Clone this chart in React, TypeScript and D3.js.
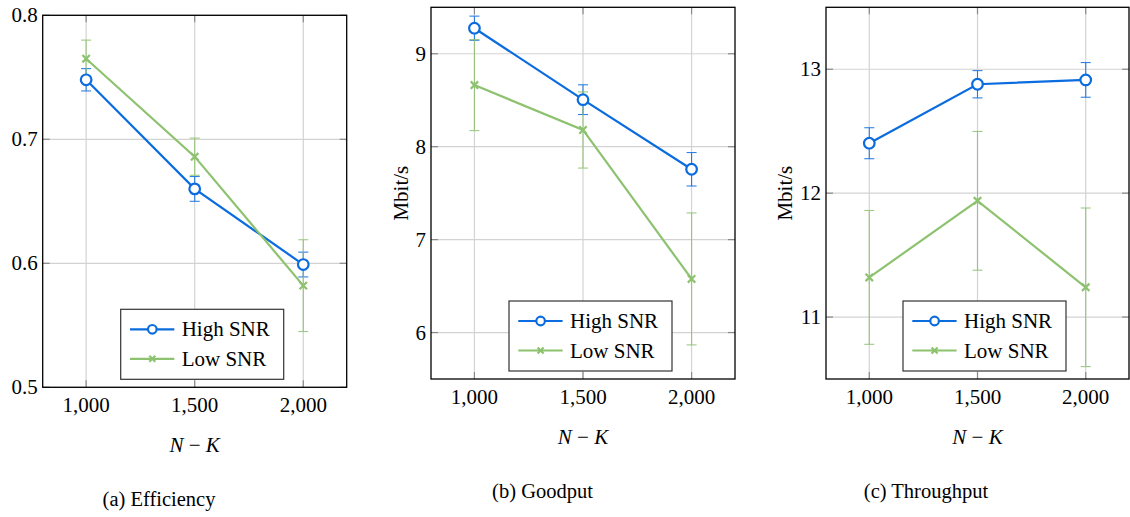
import React from "react";
import * as d3 from "d3";

const categories = [1000, 1500, 2000];
const xTicks = [1000, 1500, 2000];

const effHigh = [0.748, 0.66, 0.599];
const effHighErr = [0.009, 0.01, 0.01];
const effLow = [0.765, 0.686, 0.582];
const effLowErr = [0.015, 0.015, 0.037];
const effTicks = [0.5, 0.6, 0.7, 0.8];

const goodHigh = [9.275, 8.506, 7.757];
const goodHighErr = [0.13, 0.16, 0.18];
const goodLow = [8.663, 8.18, 6.577];
const goodLowErr = [0.49, 0.41, 0.71];
const goodTicks = [6, 7, 8, 9];

const thrHigh = [12.403, 12.879, 12.914];
const thrHighErr = [0.125, 0.11, 0.14];
const thrLow = [11.32, 11.938, 11.24];
const thrLowErr = [0.54, 0.56, 0.64];
const thrTicks = [11, 12, 13];

const seriesNames = ["High SNR", "Low SNR"];

const BLUE = "#0b6cdf";
const GREEN = "#8dc26f";
const FONT = "Liberation Serif, Tinos, Times New Roman, DejaVu Serif, serif";

type Panel = {
  left: number; top: number; right: number; bottom: number;
  yDomain: [number, number]; yTicks: number[]; yFmt: (v: number) => string;
  high: number[]; highErr: number[]; low: number[]; lowErr: number[];
  yLabel?: string; yLabelX?: number; caption: string; captionX: number;
};

const panels: Panel[] = [
  {
    left: 42.7, top: 15.3, right: 346.7, bottom: 387.3,
    yDomain: [0.5, 0.8], yTicks: effTicks, yFmt: (v) => d3.format(".1f")(v),
    high: effHigh, highErr: effHighErr, low: effLow, lowErr: effLowErr,
    caption: "(a) Efficiency", captionX: 159,
  },
  {
    left: 431, top: 7.3, right: 735, bottom: 379,
    yDomain: [5.5, 9.5], yTicks: goodTicks, yFmt: (v) => String(v),
    high: goodHigh, highErr: goodHighErr, low: goodLow, lowErr: goodLowErr,
    yLabel: "Mbit/s", yLabelX: 408, caption: "(b) Goodput", captionX: 542.5,
  },
  {
    left: 826, top: 7.3, right: 1129, bottom: 379,
    yDomain: [10.5, 13.5], yTicks: thrTicks, yFmt: (v) => String(v),
    high: thrHigh, highErr: thrHighErr, low: thrLow, lowErr: thrLowErr,
    yLabel: "Mbit/s", yLabelX: 792, caption: "(c) Throughput", captionX: 926,
  },
];

const textStyle: React.CSSProperties = { fontFamily: FONT, fontSize: "21px" };

function CircleMarker({ x, y, r = 5.3 }: { x: number; y: number; r?: number }) {
  return <circle cx={x} cy={y} r={r} fill="white" stroke={BLUE} strokeWidth={2.2} />;
}
function CrossMarker({ x, y, s = 3.7 }: { x: number; y: number; s?: number }) {
  return (
    <g stroke={GREEN} strokeWidth={2.2}>
      <line x1={x - s} y1={y - s} x2={x + s} y2={y + s} />
      <line x1={x - s} y1={y + s} x2={x + s} y2={y - s} />
    </g>
  );
}

function PanelView({ p }: { p: Panel }) {
  const x = d3.scaleLinear().domain([800, 2200]).range([p.left, p.right]);
  const y = d3.scaleLinear().domain(p.yDomain).range([p.bottom, p.top]);
  const line = d3.line<number>().x((_, i) => x(categories[i])).y((d) => y(d));
  const tickLen = 7;
  const series = [
    { vals: p.high, errs: p.highErr, color: BLUE, kind: "o" },
    { vals: p.low, errs: p.lowErr, color: GREEN, kind: "x" },
  ];
  const lgW = 163, lgH = 70;
  const lgX = p.right - 63 - lgW;
  const lgY = p.bottom - 8 - lgH;
  return (
    <g>
      {xTicks.map((t) => (
        <line key={"gx" + t} x1={x(t)} x2={x(t)} y1={p.top} y2={p.bottom} stroke="#d3d3d3" strokeWidth={1.2} />
      ))}
      {p.yTicks.map((t) => (
        <line key={"gy" + t} x1={p.left} x2={p.right} y1={y(t)} y2={y(t)} stroke="#d3d3d3" strokeWidth={1.2} />
      ))}
      {xTicks.map((t) => (
        <g key={"tx" + t} stroke="#8a8a8a" strokeWidth={1.2}>
          <line x1={x(t)} x2={x(t)} y1={p.bottom} y2={p.bottom - tickLen} />
          <line x1={x(t)} x2={x(t)} y1={p.top} y2={p.top + tickLen} />
        </g>
      ))}
      {p.yTicks.map((t) => (
        <g key={"ty" + t} stroke="#8a8a8a" strokeWidth={1.2}>
          <line x1={p.left} x2={p.left + tickLen} y1={y(t)} y2={y(t)} />
          <line x1={p.right} x2={p.right - tickLen} y1={y(t)} y2={y(t)} />
        </g>
      ))}
      {series.map((s, si) =>
        s.vals.map((v, i) => {
          const cx = x(categories[i]);
          const y1 = y(v + s.errs[i]);
          const y2 = y(v - s.errs[i]);
          return (
            <g key={"e" + si + "-" + i} stroke={s.color} strokeWidth={1.1} opacity={0.85}>
              <line x1={cx} x2={cx} y1={y1} y2={y2} />
              <line x1={cx - 5} x2={cx + 5} y1={y1} y2={y1} />
              <line x1={cx - 5} x2={cx + 5} y1={y2} y2={y2} />
            </g>
          );
        })
      )}
      {series.map((s, si) => (
        <g key={"s" + si}>
          <path d={line(s.vals) || ""} fill="none" stroke={s.color} strokeWidth={2.2} />
          {s.vals.map((v, i) =>
            s.kind === "o" ? (
              <CircleMarker key={i} x={x(categories[i])} y={y(v)} />
            ) : (
              <CrossMarker key={i} x={x(categories[i])} y={y(v)} />
            )
          )}
        </g>
      ))}
      <rect x={p.left} y={p.top} width={p.right - p.left} height={p.bottom - p.top} fill="none" stroke="#000" strokeWidth={1.3} />
      {xTicks.map((t) => (
        <text key={"lx" + t} x={x(t)} y={p.bottom + 25} textAnchor="middle" style={textStyle} fill="#000">
          {d3.format(",")(t)}
        </text>
      ))}
      {p.yTicks.map((t) => (
        <text key={"ly" + t} x={p.left - 5} y={y(t) + 7} textAnchor="end" style={textStyle} fill="#000">
          {p.yFmt(t)}
        </text>
      ))}
      <text x={(p.left + p.right) / 2} y={p.bottom + 65} textAnchor="middle" style={textStyle} fill="#000">
        <tspan fontStyle="italic">N</tspan>
        <tspan> − </tspan>
        <tspan fontStyle="italic">K</tspan>
      </text>
      {p.yLabel && (
        <text
          transform={`translate(${p.yLabelX},${(p.top + p.bottom) / 2}) rotate(-90)`}
          textAnchor="middle" style={textStyle} fill="#000"
        >
          {p.yLabel}
        </text>
      )}
      <text x={p.captionX} y={p.bottom + 119} textAnchor="middle" style={{ ...textStyle, fontSize: "20.5px" }} fill="#000">
        {p.caption}
      </text>
      <g>
        <rect x={lgX} y={lgY} width={lgW} height={lgH} fill="white" stroke="#333" strokeWidth={1.2} />
        {series.map((s, si) => {
          const ry = lgY + 20 + si * 29.5;
          return (
            <g key={"lg" + si}>
              <line x1={lgX + 9.3} x2={lgX + 53.6} y1={ry} y2={ry} stroke={s.color} strokeWidth={2.2} />
              {s.kind === "o" ? (
                <CircleMarker x={lgX + 31.6} y={ry} r={4.3} />
              ) : (
                <CrossMarker x={lgX + 31.6} y={ry} s={3} />
              )}
              <text x={lgX + 61} y={ry + 7} style={textStyle} fill="#000">
                {seriesNames[si]}
              </text>
            </g>
          );
        })}
      </g>
    </g>
  );
}

export default function App() {
  return (
    <svg width={1130} height={517} style={{ position: "absolute", left: 0, top: 0, background: "white" }}>
      <rect width={1130} height={517} fill="white" />
      {panels.map((p, i) => (
        <PanelView key={i} p={p} />
      ))}
    </svg>
  );
}
